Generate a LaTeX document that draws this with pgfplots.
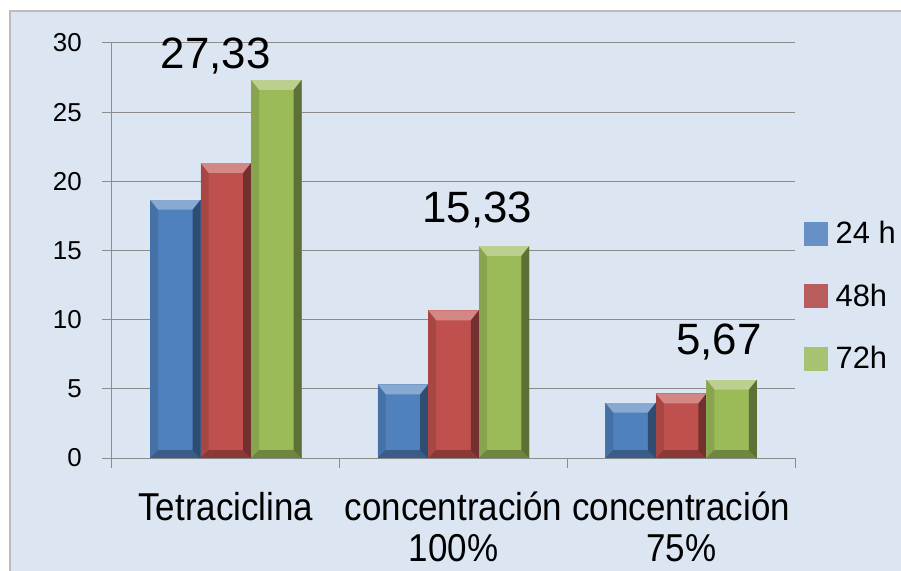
\documentclass[border=0pt]{standalone}
\usepackage{fontspec}
\setmainfont{Liberation Sans}
\newfontfamily\narrowfont{Liberation Sans}[FakeStretch=0.9]
\usepackage{pgfplots}
\pgfplotsset{compat=1.18}

\definecolor{bg}{HTML}{DCE6F2}
\definecolor{framec}{HTML}{BCBCBC}
\definecolor{gridc}{HTML}{8C8C8C}
\definecolor{cblue}{HTML}{4F81BD}
\definecolor{cred}{HTML}{C0504D}
\definecolor{cgreen}{HTML}{9BBB59}
\definecolor{lblue}{HTML}{6790C6}
\definecolor{lred}{HTML}{B85D5B}
\definecolor{lgreen}{HTML}{A6C374}

\newif\ifinbevel
\newcommand\bevelpart[6]{% color, opacity, then 4 points
  \begin{pgfscope}\pgfsetfillcolor{#1}\pgfsetfillopacity{#2}%
  \pgfpathmoveto{#3}\pgfpathlineto{#4}\pgfpathlineto{#5}\pgfpathlineto{#6}\pgfpathclose
  \pgfusepath{fill}\end{pgfscope}}
\tikzset{bevel/.style={draw=none, path picture={\ifinbevel\else\global\inbeveltrue
  \pgftransformreset
  \pgfpointanchor{path picture bounding box}{south west}\pgfgetlastxy{\bvbx}{\bvby}%
  \pgfpointanchor{path picture bounding box}{north east}\pgfgetlastxy{\bvex}{\bvey}%
  \bevelpart{white}{0.32}{\pgfqpoint{\bvbx}{\bvey}}{\pgfqpoint{\bvex}{\bvey}}{\pgfpoint{\bvex-8bp}{\bvey-10bp}}{\pgfpoint{\bvbx+8bp}{\bvey-10bp}}%
  \bevelpart{black}{0.40}{\pgfqpoint{\bvex}{\bvey}}{\pgfqpoint{\bvex}{\bvby}}{\pgfpoint{\bvex-8bp}{\bvby+8bp}}{\pgfpoint{\bvex-8bp}{\bvey-10bp}}%
  \bevelpart{black}{0.28}{\pgfqpoint{\bvex}{\bvby}}{\pgfqpoint{\bvbx}{\bvby}}{\pgfpoint{\bvbx+8bp}{\bvby+8bp}}{\pgfpoint{\bvex-8bp}{\bvby+8bp}}%
  \bevelpart{black}{0.12}{\pgfqpoint{\bvbx}{\bvby}}{\pgfqpoint{\bvbx}{\bvey}}{\pgfpoint{\bvbx+8bp}{\bvey-10bp}}{\pgfpoint{\bvbx+8bp}{\bvby+8bp}}%
  \global\inbevelfalse\fi
}}}

\begin{document}
\begin{tikzpicture}
\useasboundingbox (-112bp,-113bp) rectangle (789bp,458bp);
\fill[bg] (-102bp,-130bp) rectangle (820bp,447bp);
\draw[framec, line width=1.5bp] (-102bp,-130bp) -- (-102bp,447bp) -- (820bp,447bp);
\begin{axis}[
  scale only axis, width=683bp, height=415bp,
  xmin=-0.5, xmax=2.5, ymin=0, ymax=30,
  clip=false,
  ybar=0pt, bar width=0.222,
  axis lines*=left,
  axis line style={gridc, line width=1bp},
  ytick={0,5,...,30},
  ymajorgrids, grid style={gridc, line width=1bp},
  xtick={0,1,2},
  xticklabels={{\strut Tetraciclina}, {\strut concentración\\100\%}, {\strut concentración\\75\%}},
  minor xtick={-0.5,0.5,1.5,2.5},
  tick align=outside,
  major tick length=10bp, minor tick length=10bp,
  tick style={gridc, line width=1bp},
  major x tick style={draw=none},
  /pgf/number format/assume math mode=true,
  xticklabel style={font=\narrowfont\fontsize{39}{42}\selectfont, align=center, inner sep=0pt, anchor=north, yshift=-22.6bp},
  yticklabel style={font=\fontsize{26}{30}\selectfont, inner sep=0pt, anchor=east, xshift=-20bp},
  legend style={at={(1.0132,0.575)}, anchor=north west, draw=none, fill=none, inner sep=0pt,
     font=\fontsize{31}{34}\selectfont, row sep=34.5bp,
     /tikz/every odd column/.append style={column sep=6bp}},
  legend cell align=left,
  b24/.style={bevel, fill=cblue, bar shift=-0.222, forget plot},
  b48/.style={bevel, fill=cred, bar shift=0, forget plot},
  b72/.style={bevel, fill=cgreen, bar shift=0.222, forget plot},
]
% 24 h
\addplot[b24] coordinates {(0,18.67)};
\addplot[b24] coordinates {(1,5.33)};
\addplot[b24] coordinates {(2,4.00)};
% 48 h
\addplot[b48] coordinates {(0,21.33)};
\addplot[b48] coordinates {(1,10.67)};
\addplot[b48] coordinates {(2,4.67)};
% 72 h
\addplot[b72] coordinates {(0,27.33)};
\addplot[b72] coordinates {(1,15.33)};
\addplot[b72] coordinates {(2,5.67)};
\addlegendimage{legend image code/.code={\fill[lblue] (0bp,-11.5bp) rectangle (23bp,11.5bp);}}
\addlegendentry{24 h}
\addlegendimage{legend image code/.code={\fill[lred] (0bp,-11.5bp) rectangle (23bp,11.5bp);}}
\addlegendentry{48h}
\addlegendimage{legend image code/.code={\fill[lgreen] (0bp,-11.5bp) rectangle (23bp,11.5bp);}}
\addlegendentry{72h}
\node[font=\fontsize{44}{48}\selectfont, anchor=base, inner sep=0pt] at (axis cs:-0.045,28.19) {27,33};
\node[font=\fontsize{44}{48}\selectfont, anchor=base, inner sep=0pt] at (axis cs:1.105,17.06) {15,33};
\node[font=\fontsize{44}{48}\selectfont, anchor=base, inner sep=0pt] at (axis cs:2.166,7.45) {5,67};
\end{axis}
\end{tikzpicture}
\end{document}
